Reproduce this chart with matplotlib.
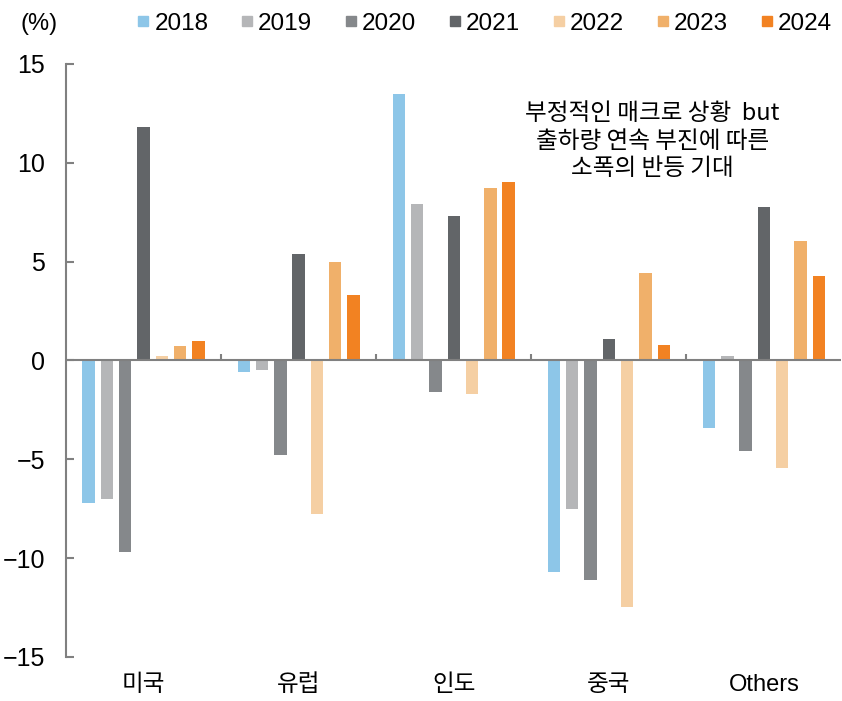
import matplotlib.pyplot as plt
import numpy as np
from matplotlib.lines import Line2D

plt.rcParams['font.family'] = ['Liberation Sans', 'Noto Sans CJK KR', 'DejaVu Sans']

regions = ['미국', '유럽', '인도', '중국', 'Others']
years = ['2018', '2019', '2020', '2021', '2022', '2023', '2024']
v2018 = [-7.2, -0.6, 13.5, -10.7, -3.4]
v2019 = [-7.0, -0.5, 7.9, -7.5, 0.25]
v2020 = [-9.7, -4.8, -1.6, -11.1, -4.6]
v2021 = [11.8, 5.4, 7.3, 1.1, 7.75]
v2022 = [0.22, -7.75, -1.7, -12.45, -5.45]
v2023 = [0.72, 5.0, 8.7, 4.4, 6.05]
v2024 = [1.0, 3.3, 9.05, 0.8, 4.25]
series = [v2018, v2019, v2020, v2021, v2022, v2023, v2024]
colors = ['#8DC6E8', '#B5B6B8', '#85888B', '#626568', '#F5CFA3', '#F0B06A', '#F28222']

fig = plt.figure(figsize=(8.42, 7.01), dpi=100)
ax = fig.add_axes([0.0784, 0.0628, 0.921, 0.846])

x = np.arange(len(regions))
step = 0.118
width = 0.08
for i, (vals, c) in enumerate(zip(series, colors)):
    ax.bar(x + (i - 3) * step, vals, width, color=c, zorder=2)

ax.set_xlim(-0.5, 4.5)
ax.set_ylim(-15, 15)
ax.set_yticks([-15, -10, -5, 0, 5, 10, 15])
ax.tick_params(axis='y', direction='in', length=6, width=1.5, color='#808080',
               labelsize=18, pad=15)
ax.set_xticks(x)
ax.set_xticklabels(regions, fontsize=17, family=['Liberation Sans', 'Noto Sans CJK KR'])
ax.tick_params(axis='x', length=0, pad=12)

for s in ['top', 'right', 'bottom']:
    ax.spines[s].set_visible(False)
ax.spines['left'].set_color('#808080')
ax.spines['left'].set_linewidth(1.5)

ax.axhline(0, color='#808080', lw=1.5, zorder=3)
ax.vlines(x[:-1] + 0.5, 0, 0.35, color='#808080', lw=1.5, zorder=3)

fig.text(0.024, 0.966, '(%)', fontsize=17, va='center', ha='left')

ax.text(0.756, 0.870, '부정적인 매크로 상황  but\n출하량 연속 부진에 따른\n소폭의 반등 기대',
        transform=ax.transAxes, ha='center', va='center', fontsize=17,
        linespacing=1.25, family=['Noto Sans CJK KR', 'DejaVu Sans'])

handles = [Line2D([], [], marker='s', ls='', color=c, markersize=7) for c in colors]
fig.legend(handles, years, loc='center', bbox_to_anchor=(0.575, 0.966), ncol=7,
           frameon=False, handletextpad=0.15, columnspacing=1.3, handlelength=0.6,
           prop={'family': 'Liberation Sans', 'size': 17.5})

fig.savefig('out.png', dpi=100)
